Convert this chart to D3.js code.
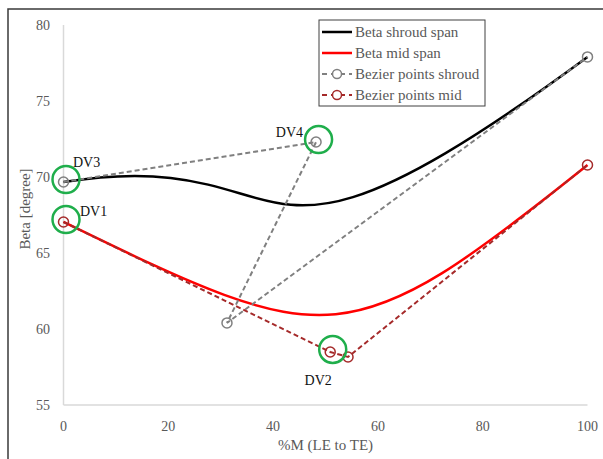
<!DOCTYPE html>
<html><head><meta charset="utf-8">
<script src="https://cdn.jsdelivr.net/npm/d3@7"></script>
<style>body{margin:0;background:#fff}svg{display:block}text{font-family:"Liberation Serif","Times New Roman","DejaVu Serif",serif}</style></head>
<body><svg id="c" width="603" height="459"></svg>
<script>
const xTicks = [0, 20, 40, 60, 80, 100];
const yTicks = [55, 60, 65, 70, 75, 80];
const shroudX = [0, 48.2, 31.2, 100];
const shroudY = [69.67, 72.3, 60.4, 77.9];
const midX = [0, 50.9, 54.3, 100];
const midY = [67.04, 58.49, 58.16, 70.79];
const seriesNames = ["Beta shroud span", "Beta mid span", "Bezier points shroud", "Bezier points mid"];
const dvLabels = ["DV3", "DV1", "DV4", "DV2"];
const dvX = [shroudX[0], midX[0], shroudX[1], midX[1]];
const dvY = [shroudY[0], midY[0], shroudY[1], midY[1]];

// styling for annotation labels (pixel offsets, anchor)
const dvStyle = [
  {dx: 9.5, dy: -15, anchor: "start"},
  {dx: 16.5, dy: -6, anchor: "start"},
  {dx: -13, dy: -5, anchor: "end"},
  {dx: -12, dy: 33, anchor: "middle"}
];

const svg = d3.select("#c");
const x = d3.scaleLinear().domain([0, 100]).range([63.5, 587.5]);
const y = d3.scaleLinear().domain([55, 80]).range([405, 25]);
const tickCol = "#595959";

// outer border (top & left visible)
svg.append("rect").attr("x", 8).attr("y", 9).attr("width", 700).attr("height", 600)
  .attr("fill", "none").attr("stroke", "#3a3a3a").attr("stroke-width", 1.5);

// axes lines
svg.append("line").attr("x1", x(0)).attr("x2", x(0)).attr("y1", y(80)).attr("y2", y(55))
  .attr("stroke", "#d9d9d9").attr("stroke-width", 1.5);
svg.append("line").attr("x1", x(0)).attr("x2", x(100)).attr("y1", y(55)).attr("y2", y(55))
  .attr("stroke", "#d9d9d9").attr("stroke-width", 1.5);

// tick labels
svg.append("g").selectAll("text").data(yTicks).join("text")
  .attr("x", 50).attr("y", d => y(d)).attr("dy", "0.35em").attr("text-anchor", "end")
  .attr("font-size", 14).attr("fill", tickCol).text(d => d);
svg.append("g").selectAll("text").data(xTicks).join("text")
  .attr("x", d => x(d)).attr("y", 426).attr("dy", "0.35em").attr("text-anchor", "middle")
  .attr("font-size", 14).attr("fill", tickCol).text(d => d);

// axis titles
svg.append("text").attr("transform", "translate(25,209) rotate(-90)").attr("dy", "0.35em")
  .attr("text-anchor", "middle").attr("font-size", 15)
  .attr("fill", tickCol).text("Beta [degree]");
svg.append("text").attr("x", (x(0) + x(100)) / 2).attr("y", 445).attr("dy", "0.35em")
  .attr("text-anchor", "middle").attr("font-size", 15)
  .attr("fill", tickCol).text("%M (LE to TE)");

function bez(xs, ys) {
  const p = d3.path();
  p.moveTo(x(xs[0]), y(ys[0]));
  p.bezierCurveTo(x(xs[1]), y(ys[1]), x(xs[2]), y(ys[2]), x(xs[3]), y(ys[3]));
  return p.toString();
}
const line = d3.line().x(d => x(d[0])).y(d => y(d[1]));

// curves
svg.append("path").attr("d", bez(shroudX, shroudY)).attr("fill", "none")
  .attr("stroke", "#000").attr("stroke-width", 2.5);
svg.append("path").attr("d", bez(midX, midY)).attr("fill", "none")
  .attr("stroke", "#ff0000").attr("stroke-width", 2.5);

// control polygons
function poly(xs, ys, col) {
  const pts = xs.map((v, i) => [v, ys[i]]);
  svg.append("path").attr("d", line(pts)).attr("fill", "none")
    .attr("stroke", col).attr("stroke-width", 2).attr("stroke-dasharray", "5,3");
  svg.append("g").selectAll("circle").data(pts).join("circle")
    .attr("cx", d => x(d[0])).attr("cy", d => y(d[1])).attr("r", 5)
    .attr("fill", "none").attr("stroke", col).attr("stroke-width", 1.5);
}
poly(shroudX, shroudY, "#808080");
poly(midX, midY, "#a52a2a");

// design variable highlights
dvLabels.forEach((lab, i) => {
  const cx = x(dvX[i]), cy = y(dvY[i]);
  svg.append("circle").attr("cx", cx + 2.5).attr("cy", cy - 2.5).attr("r", 13.5)
    .attr("fill", "none").attr("stroke", "#1fae4b").attr("stroke-width", 2.5);
  svg.append("text").attr("x", cx + dvStyle[i].dx).attr("y", cy + dvStyle[i].dy)
    .attr("text-anchor", dvStyle[i].anchor).attr("font-size", 14)
    .attr("fill", "#111").text(lab);
});

// legend
const lg = svg.append("g");
lg.append("rect").attr("x", 319).attr("y", 20).attr("width", 166).attr("height", 86)
  .attr("fill", "#fff").attr("stroke", "#404040").attr("stroke-width", 1);
const legCols = ["#000", "#ff0000", "#808080", "#a52a2a"];
const rowsY = [32, 53, 74, 95];
seriesNames.forEach((name, i) => {
  const yy = rowsY[i];
  if (i < 2) {
    lg.append("line").attr("x1", 322).attr("x2", 352).attr("y1", yy).attr("y2", yy)
      .attr("stroke", legCols[i]).attr("stroke-width", 2.5);
  } else {
    lg.append("line").attr("x1", 322).attr("x2", 352).attr("y1", yy).attr("y2", yy)
      .attr("stroke", legCols[i]).attr("stroke-width", 2).attr("stroke-dasharray", "5,4");
    lg.append("circle").attr("cx", 337).attr("cy", yy).attr("r", 4.5)
      .attr("fill", "#fff").attr("stroke", legCols[i]).attr("stroke-width", 1.5);
  }
  lg.append("text").attr("x", 355).attr("y", yy).attr("dy", "0.35em")
    .attr("font-size", 15).attr("fill", tickCol).text(name);
});
</script></body></html>
